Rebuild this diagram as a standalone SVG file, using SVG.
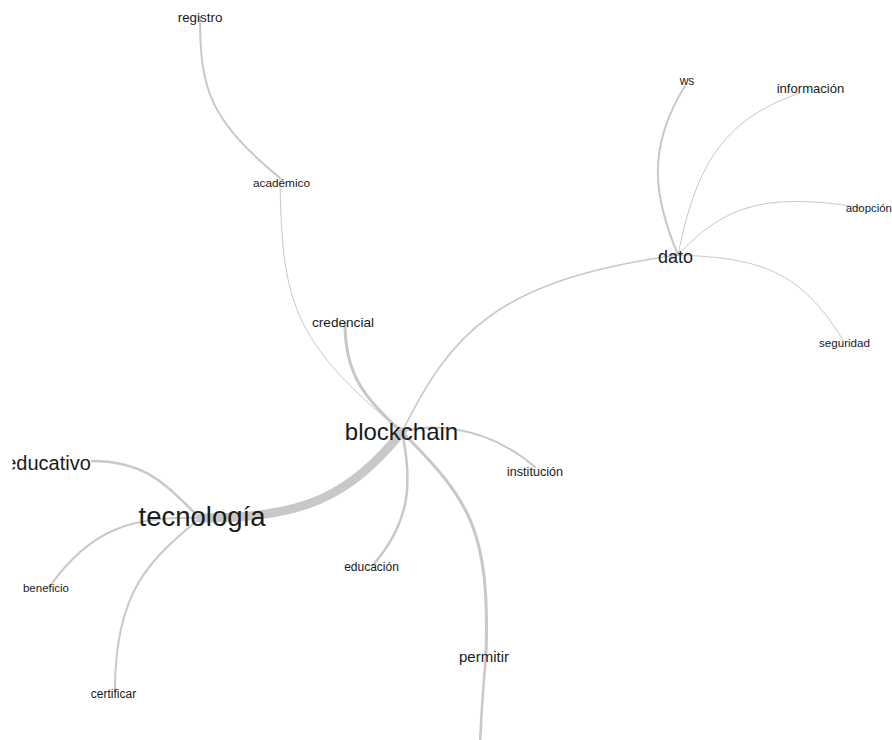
<svg xmlns="http://www.w3.org/2000/svg" width="892" height="740" viewBox="0 0 892 740">
  <style>
    .edge { fill: none; stroke: #c8c8c8; stroke-linecap: round; }
    .lbl { font-family: "Liberation Sans", Arial, sans-serif; fill: #1a1a1a; text-anchor: middle; }
  </style>
  <defs>
    <clipPath id="leftEdge">
      <rect x="12.5" y="0" width="880" height="740"/>
    </clipPath>
  </defs>
  <rect width="892" height="740" fill="#ffffff"/>

  <!-- connectors -->
  <g id="edges">
    <path class="edge" stroke-width="9" d="M200,518 C305,519 350,495 402,432"/>
    <path class="edge" stroke-width="2.5" d="M200,518 C170,490 150,461 92,461"/>
    <path class="edge" stroke-width="2" d="M200,518 C130,516 90,530 50,586"/>
    <path class="edge" stroke-width="2" d="M200,518 C150,560 115,590 115,690"/>
    <path class="edge" stroke-width="2" d="M200,17 C200,90 210,120 280,178"/>
    <path class="edge" stroke-width="1" d="M280,178 C282,300 290,340 402,432"/>
    <path class="edge" stroke-width="3" d="M345,323 C345,370 360,395 402,432"/>
    <path class="edge" stroke-width="1.6" d="M402,432 C450,335 495,280 678,255"/>
    <path class="edge" stroke-width="2" d="M402,432 C420,425 480,420 535,467"/>
    <path class="edge" stroke-width="2.5" d="M402,432 C412,480 412,520 373,565"/>
    <path class="edge" stroke-width="3" d="M402,432 C470,500 490,530 486,655"/>
    <path class="edge" stroke-width="2.5" d="M486,655 C482,700 481,720 480,745"/>
    <path class="edge" stroke-width="2" d="M678,255 C655,200 645,150 685,86"/>
    <path class="edge" stroke-width="1" d="M678,255 C695,170 720,120 800,93"/>
    <path class="edge" stroke-width="1" d="M678,255 C720,210 760,190 862,208"/>
    <path class="edge" stroke-width="1" d="M678,255 C760,258 800,270 843,340"/>
  </g>

  <!-- nodes -->
  <g id="node-registro"><text class="lbl" x="200" y="22" font-size="13.4">registro</text></g>
  <g id="node-academico"><text class="lbl" x="281.5" y="187" font-size="11.8">académico</text></g>
  <g id="node-credencial"><text class="lbl" x="343" y="327" font-size="13.6">credencial</text></g>
  <g id="node-blockchain"><text class="lbl" x="401.5" y="440" font-size="24">blockchain</text></g>
  <g id="node-tecnologia"><text class="lbl" x="202" y="526" font-size="27.5">tecnología</text></g>
  <g id="node-educativo" clip-path="url(#leftEdge)"><text class="lbl" x="48" y="470" font-size="20">educativo</text></g>
  <g id="node-beneficio"><text class="lbl" x="46" y="592" font-size="11.5">beneficio</text></g>
  <g id="node-certificar"><text class="lbl" x="113.5" y="698" font-size="12">certificar</text></g>
  <g id="node-educacion"><text class="lbl" x="371.5" y="571" font-size="12">educación</text></g>
  <g id="node-institucion"><text class="lbl" x="535" y="476" font-size="12.6">institución</text></g>
  <g id="node-permitir"><text class="lbl" x="484" y="662" font-size="15">permitir</text></g>
  <g id="node-dato"><text class="lbl" x="675.5" y="263" font-size="18">dato</text></g>
  <g id="node-ws"><text class="lbl" x="687" y="85" font-size="12">ws</text></g>
  <g id="node-informacion"><text class="lbl" x="810.5" y="93" font-size="13.1">información</text></g>
  <g id="node-adopcion"><text class="lbl" x="868.8" y="212" font-size="11.4">adopción</text></g>
  <g id="node-seguridad"><text class="lbl" x="844.5" y="347" font-size="11.6">seguridad</text></g>
</svg>
